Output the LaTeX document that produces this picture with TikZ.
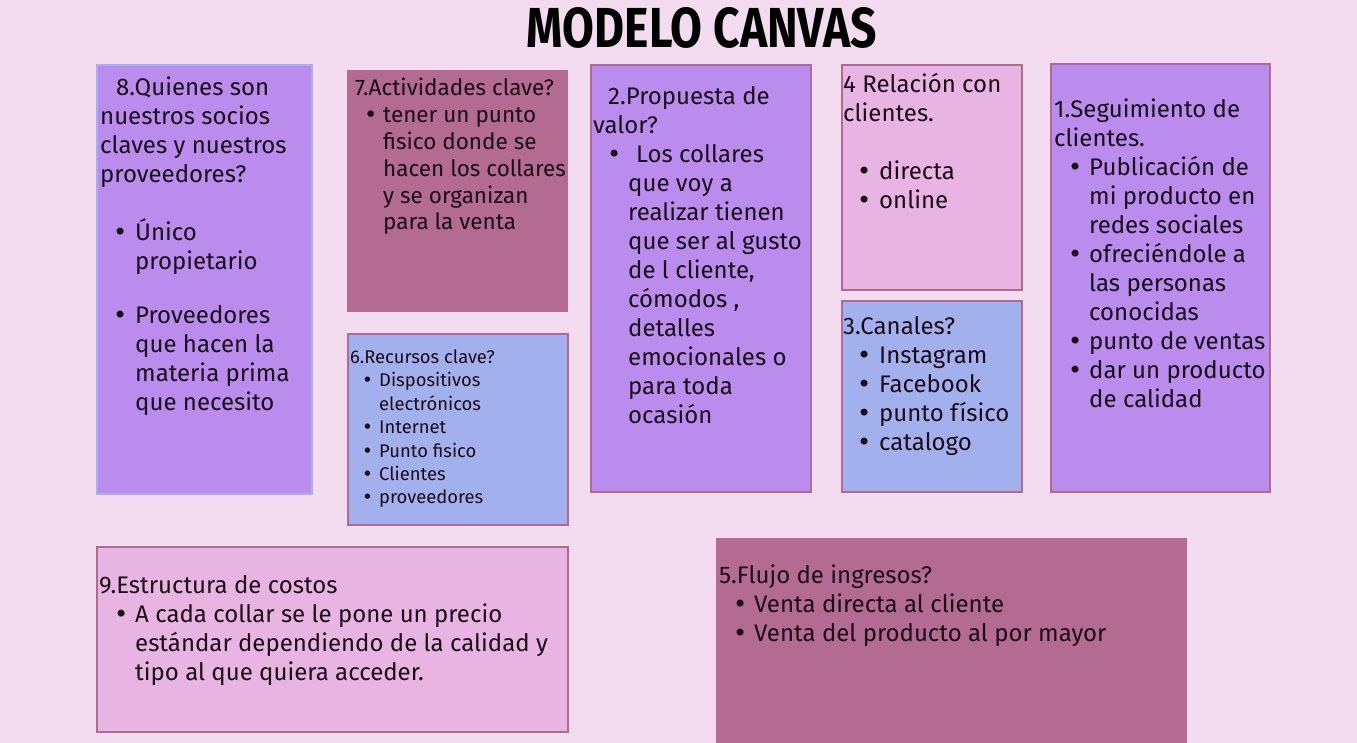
\documentclass[tikz,border=0pt]{standalone}
\usepackage{fontspec}
\setmainfont{Fira Sans}
\newfontfamily\titlefont{Fira Sans}
\newfontfamily\bulfont{DejaVu Sans}
\definecolor{bgc}{HTML}{F3DBF0}
\definecolor{purp}{HTML}{BA8CEE}
\definecolor{mauve}{HTML}{B36B91}
\definecolor{peri}{HTML}{A3B0EE}
\definecolor{pinkc}{HTML}{E8B4E2}
\definecolor{edgec}{HTML}{B06A98}
\definecolor{edgeb}{HTML}{A9AEF0}
\definecolor{txt}{HTML}{1C0B19}
\newcommand\bi[2]{\hspace*{#1}\makebox[#2][l]{{\bulfont •}}}
\newcommand\ct[1]{\hspace*{#1}}
\tikzset{
  card/.style={draw=edgec, line width=1.5pt},
  body/.style={anchor=north west, inner sep=0pt, align=left, text=txt, font=\fontsize{24}{29}\selectfont},
  small/.style={body, font=\fontsize{18.4}{23.4}\selectfont},
  mid/.style={body, font=\fontsize{22.5}{26.8}\selectfont}
}
\begin{document}
\begin{tikzpicture}[x=1pt,y=-1pt]
\useasboundingbox (0,0) rectangle (1357,743);
\fill[bgc] (0,0) rectangle (1357,743);
% title
\node (title) at (702,28) {\resizebox{350pt}{40pt}{\titlefont\bfseries MODELO CANVAS}};
% boxes
\path[fill=purp, draw=edgeb, line width=1.5pt] (97,65) rectangle (312,494);
\node (b8) [body] at (100,75) {\strut\ct{16pt}8.Quienes son\\nuestros socios\\claves y nuestros\\proveedores?\\[29pt]
\bi{13pt}{22pt}Único\\ \ct{35pt}propietario\\[25pt]
\bi{13pt}{22pt}Proveedores\\ \ct{35pt}que hacen la\\ \ct{35pt}materia prima\\ \ct{35pt}que necesito};

\fill[mauve] (347,70) rectangle (568,312);
\node (b7) [mid] at (355,77) {\strut 7.Actividades clave?\\
\bi{9pt}{19pt}tener un punto\\ \ct{28pt}fisico donde se\\ \ct{28pt}hacen los collares\\ \ct{28pt}y se organizan\\ \ct{28pt}para la venta};

\path[card, fill=peri] (348,334) rectangle (568,525);
\node (b6) [small] at (350,347) {\strut 6.Recursos clave?\\
\bi{12pt}{17pt}Dispositivos\\ \ct{29pt}electrónicos\\
\bi{12pt}{17pt}Internet\\
\bi{12pt}{17pt}Punto fisico\\
\bi{12pt}{17pt}Clientes\\
\bi{12pt}{17pt}proveedores};

\path[card, fill=purp] (591,65) rectangle (811,492);
\node (b2) [body] at (593,84) {\strut\ct{15pt}2.Propuesta de\\valor?\\
\bi{14pt}{29pt}Los collares\\ \ct{35pt}que voy a\\ \ct{35pt}realizar tienen\\ \ct{35pt}que ser al gusto\\ \ct{35pt}de l cliente,\\ \ct{35pt}cómodos ,\\ \ct{35pt}detalles\\ \ct{35pt}emocionales o\\ \ct{35pt}para toda\\ \ct{35pt}ocasión};

\path[card, fill=pinkc] (842,65) rectangle (1022,290);
\node (b4) [body] at (843,72) {\strut 4 Relación con\\clientes.\\[29pt]
\bi{14pt}{22pt}directa\\
\bi{14pt}{22pt}online};

\path[card, fill=peri] (842,301) rectangle (1022,492);
\node (b3) [body] at (843,314) {\strut 3.Canales?\\
\bi{14pt}{22pt}Instagram\\
\bi{14pt}{22pt}Facebook\\
\bi{14pt}{22pt}punto físico\\
\bi{14pt}{22pt}catalogo};

\path[card, fill=purp] (1051,64) rectangle (1270,492);
\node (b1) [body] at (1054,97) {\strut 1.Seguimiento de\\clientes.\\
\bi{14pt}{21pt}Publicación de\\ \ct{35pt}mi producto en\\ \ct{35pt}redes sociales\\
\bi{14pt}{21pt}ofreciéndole a\\ \ct{35pt}las personas\\ \ct{35pt}conocidas\\
\bi{14pt}{21pt}punto de ventas\\
\bi{14pt}{21pt}dar un producto\\ \ct{35pt}de calidad};

\path[card, fill=pinkc] (97,547) rectangle (568,732);
\node (b9) [body] at (99,573) {\strut 9.Estructura de costos\\
\bi{15pt}{21pt}A cada collar se le pone un precio\\ \ct{36pt}estándar dependiendo de la calidad y\\ \ct{36pt}tipo al que quiera acceder.};

\fill[mauve] (716,538) rectangle (1187,743);
\node (b5) [body] at (719,563) {\strut 5.Flujo de ingresos?\\
\bi{14pt}{21pt}Venta directa al cliente\\
\bi{14pt}{21pt}Venta del producto al por mayor};
\end{tikzpicture}
\end{document}
